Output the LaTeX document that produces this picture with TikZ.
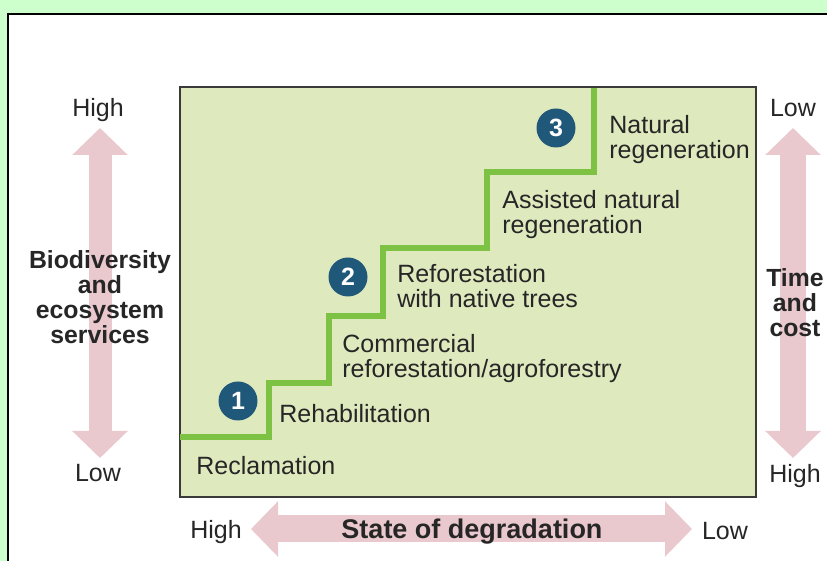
\documentclass[tikz,border=0pt]{standalone}
\usepackage{fontspec}
\setmainfont{Liberation Sans}
\usepackage{xcolor}
\usetikzlibrary{arrows.meta,positioning}
\definecolor{pagebg}{HTML}{CCFFCC}
\definecolor{boxfill}{HTML}{DEE9BE}
\definecolor{boxline}{HTML}{3A3A3A}
\definecolor{stairgreen}{HTML}{7DC242}
\definecolor{pinkarrow}{HTML}{EAC9CE}
\definecolor{badgeblue}{HTML}{20587A}
\definecolor{ink}{HTML}{262626}
\tikzset{
  steplabel/.style={anchor=north west, align=left, text=ink, inner sep=0pt,
    font=\fontsize{12.5}{12.3}\selectfont},
  axislabel/.style={anchor=base, text=ink, inner sep=0pt,
    font=\fontsize{12.5}{12.5}\selectfont},
  axistitle/.style={anchor=north, align=center, text=ink, inner sep=0pt,
    font=\bfseries\fontsize{12.4}{12.5}\selectfont},
  numbadge/.style={circle, fill=badgeblue, text=white, inner sep=0pt,
    minimum size=19.5pt, font=\bfseries\fontsize{12.5}{12.5}\selectfont},
  bigarrow/.style={draw=pinkarrow, line width=#1,
    arrows={Triangle[width=27pt,length=13.5pt]-Triangle[width=27pt,length=13.5pt]}},
  stairline/.style={draw=stairgreen, line width=3pt}
}
\begin{document}
\begin{tikzpicture}[x=0.5pt,y=-0.5pt]
  \fill[pagebg] (0,0) rectangle (827,561);
  \useasboundingbox (0,0) rectangle (827,561);
  \fill[white] (8,14) rectangle (827,561);
  \draw[black,line width=1pt] (827,14) -- (8,14) -- (8,561);

  % main panel
  \coordinate (panelNW) at (180,87);
  \coordinate (panelSE) at (756,497);
  \draw[boxline,fill=boxfill,line width=1pt] (panelNW) rectangle (panelSE);

  % the steps
  \draw[stairline] (180,437) -| (269,383) -| (329,316) -| (383,248)
    -| (487,172) -| (594,88);

  \node[numbadge] (one) at (238,401) {1};
  \node[numbadge] (two) at (348,277) {2};
  \node[numbadge] (three) at (556,128) {3};

  \node[steplabel] (reclam) at (196,456) {Reclamation};
  \node[steplabel] (rehab) at (279,404) {Rehabilitation};
  \node[steplabel] (commerc) at (342,334) {Commercial\\reforestation/agroforestry};
  \node[steplabel] (native) at (397,264) {Reforestation\\with native trees};
  \node[steplabel] (assisted) at (502,190) {Assisted natural\\regeneration};
  \node[steplabel] (natural) at (609,115) {Natural\\regeneration};

  % left axis
  \coordinate (bioTop) at (100,128);
  \coordinate (bioBot) at (100,458);
  \draw[bigarrow=11.5pt] (bioTop) -- (bioBot);
  \node[axislabel] (bioHigh) at (98,117) {High};
  \node[axislabel] (bioLow) at (98,482) {Low};
  \node[axistitle] (bioTitle) at (100,250) {Biodiversity\\and\\ecosystem\\services};

  % right axis
  \coordinate (costTop) at (793,128);
  \coordinate (costBot) at (793,458);
  \draw[bigarrow=13pt] (costTop) -- (costBot);
  \node[axislabel] (costLow) at (793,117) {Low};
  \node[axislabel] (costHigh) at (795,483) {High};
  \node[axistitle] (costTitle) at (795,268) {Time\\and\\cost};

  % bottom axis
  \coordinate (degLeft) at (251,529);
  \coordinate (degRight) at (692,529);
  \draw[bigarrow=13.5pt] (degLeft) -- (degRight);
  \node[axislabel] (degHigh) at (216,539) {High};
  \node[axislabel] (degLow) at (725,540) {Low};
  \node[axislabel,font=\bfseries\fontsize{13.5}{13.5}\selectfont] (degTitle)
    at (472,539) {State of degradation};
\end{tikzpicture}
\end{document}
